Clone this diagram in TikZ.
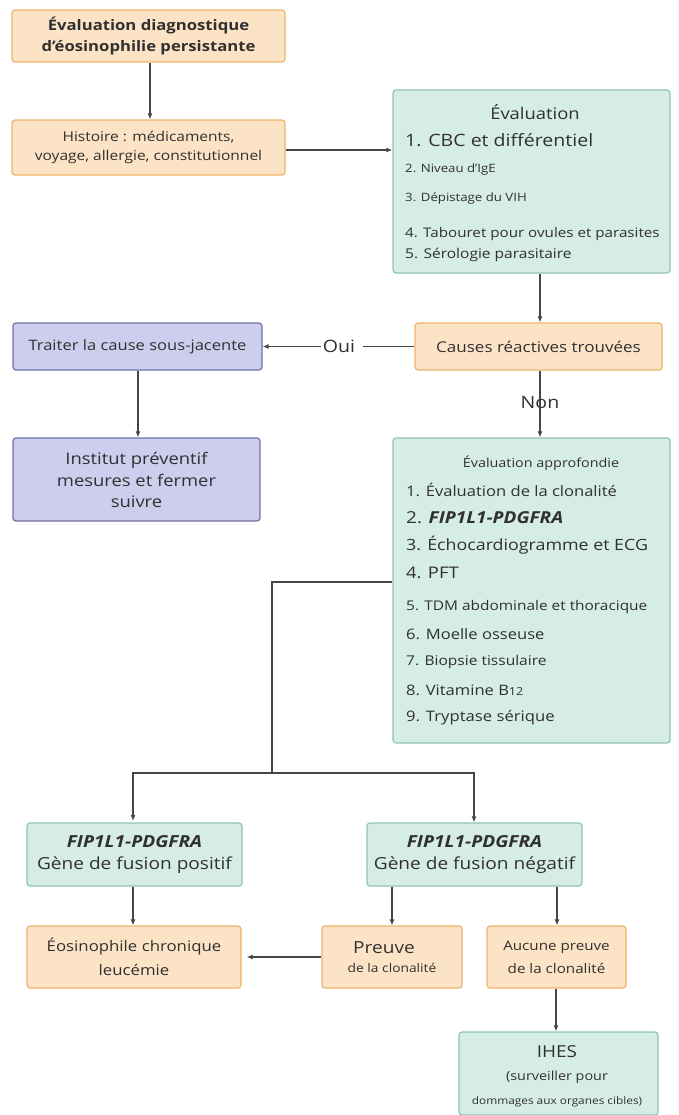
\documentclass[tikz,border=0pt]{standalone}
\usepackage{fontspec}
\setmainfont{Open Sans}[FakeStretch=1.15]
\usetikzlibrary{arrows.meta,calc}
\definecolor{orfill}{HTML}{FCE3C6}
\definecolor{ordraw}{HTML}{EDB46A}
\definecolor{grfill}{HTML}{D6EDE5}
\definecolor{grdraw}{HTML}{8EC5AE}
\definecolor{pufill}{HTML}{CDCEEE}
\definecolor{pudraw}{HTML}{6F71A6}
\definecolor{ink}{HTML}{303030}
\definecolor{wire}{HTML}{454545}
\newcommand{\fs}[1]{\fontsize{#1}{#1}\selectfont}
\tikzset{
  box/.style={rectangle, rounded corners=3pt, line width=1.2pt, inner sep=0pt, align=center, text=ink},
  obox/.style={box, fill=orfill, draw=ordraw},
  gbox/.style={box, fill=grfill, draw=grdraw},
  pbox/.style={box, fill=pufill, draw=pudraw},
  item/.style={anchor=west, inner sep=0pt, text=ink},
  wirestyle/.style={draw=wire, line width=1.3pt},
  arr/.style={wirestyle, -{Latex[length=6pt,width=5pt]}},
  lbl/.style={inner sep=0pt, text=ink}
}
\begin{document}
\begin{tikzpicture}[x=1pt,y=-1pt]
\useasboundingbox (0,0) rectangle (679,1115);

% first assessment steps
\node[obox, minimum width=273pt, minimum height=52pt, font=\fs{14.5}\bfseries]
  (top) at (148.5,36) {Évaluation diagnostique\\[5.5pt]d'éosinophilie persistante};
\node[obox, minimum width=273pt, minimum height=55pt, font=\fs{13.5}]
  (hist) at (148.5,147.5) {Histoire : médicaments,\\[6pt]voyage, allergie, constitutionnel};

% initial work-up
\node[gbox, minimum width=277pt, minimum height=183pt] (eval) at (531.5,181.5) {};
\node[lbl, font=\fs{16}] (evalt) at (535,112) {Évaluation};
\node[item, font=\fs{17}] (e1) at (405,140) {1. CBC et différentiel};
\node[item, font=\fs{11.5}] (e2) at (405,170) {2. Niveau d'IgE};
\node[item, font=\fs{11.5}] (e3) at (405,198) {3. Dépistage du VIH};
\node[item, font=\fs{13.2}] (e4) at (405,234) {4. Tabouret pour ovules et parasites};
\node[item, font=\fs{13.5}] (e5) at (405,255) {5. Sérologie parasitaire};

% reactive causes decision
\node[obox, minimum width=247pt, minimum height=47pt, font=\fs{14.8}]
  (causes) at (538.5,346.5) {Causes réactives trouvées};
\node[pbox, minimum width=249pt, minimum height=47pt, font=\fs{14.4}]
  (traiter) at (137.5,346.5) {Traiter la cause sous-jacente};
\node[pbox, minimum width=247pt, minimum height=83pt, font=\fs{16}]
  (inst) at (136.5,479.5) {Institut préventif\\[5pt]mesures et fermer\\[5pt]suivre};
\node[lbl, font=\fs{17}] (oui) at (339,346.5) {Oui};
\node[lbl, font=\fs{17}] (non) at (540,403) {Non};

% extended work-up
\node[gbox, minimum width=277pt, minimum height=305pt] (deep) at (531.5,590.5) {};
\node[lbl, font=\fs{12.5}] (deept) at (541,463) {Évaluation approfondie};
\node[item, font=\fs{14.4}] (d1) at (406,490) {1. Évaluation de la clonalité};
\node[item, font=\fs{16.5}] (d2) at (406,518) {2. \textbf{\textit{FIP1L1-PDGFRA}}};
\node[item, font=\fs{15.5}] (d3) at (406,545) {3. Échocardiogramme et ECG};
\node[item, font=\fs{16}] (d4) at (406,573) {4. PFT};
\node[item, font=\fs{13.4}] (d5) at (406,607) {5. TDM abdominale et thoracique};
\node[item, font=\fs{14.4}] (d6) at (406,634) {6. Moelle osseuse};
\node[item, font=\fs{13.5}] (d7) at (406,662) {7. Biopsie tissulaire};
\node[item, font=\fs{14.4}] (d8) at (406,690) {8. Vitamine B{\fs{11}12}};
\node[item, font=\fs{14.5}] (d9) at (406,718) {9. Tryptase sérique};

% fusion gene outcome
\node[gbox, minimum width=215pt, minimum height=63pt, font=\fs{16.6}]
  (fpos) at (134.5,854.5) {\textbf{\textit{FIP1L1-PDGFRA}}\\[5pt]Gène de fusion positif};
\node[gbox, minimum width=215pt, minimum height=63pt, font=\fs{16.6}]
  (fneg) at (474.5,854.5) {\textbf{\textit{FIP1L1-PDGFRA}}\\[5pt]Gène de fusion négatif};

% final diagnoses
\node[obox, minimum width=214pt, minimum height=62pt, font=\fs{14.6}]
  (cel) at (134,957) {Éosinophile chronique\\[8pt]leucémie};
\node[obox, minimum width=140pt, minimum height=62pt]
  (preuve) at (392,957) {\fs{16.6}\hspace*{-16pt}Preuve\\[7pt]\fs{12}de la clonalité};
\node[obox, minimum width=139pt, minimum height=62pt, font=\fs{13.2}]
  (aucune) at (556.5,957) {Aucune preuve\\[9pt]de la clonalité};
\node[gbox, minimum width=199pt, minimum height=83pt]
  (ihes) at (558.5,1073.5) {};
\node[lbl, font=\fs{16.5}] (ihes1) at (557,1052) {IHES};
\node[lbl, font=\fs{12.5}] (ihes2) at (557,1077) {(surveiller pour};
\node[lbl, font=\fs{10.3}] (ihes3) at (557,1102) {dommages aux organes cibles)};

% connectors
\coordinate (split) at (272,582);
\coordinate (fork) at (272,773);
\draw[arr] (top.south -| 150,0) -- (hist.north -| 150,0);
\draw[arr] (hist.east |- 0,150) -- (eval.west |- 0,150);
\draw[arr] (eval.south -| 540,0) -- (causes.north -| 540,0);
\draw[wirestyle] (causes.west) -- ([xshift=8pt]oui.east);
\draw[arr] ([xshift=-2pt]oui.west) -- (traiter.east |- oui.west);
\draw[arr] (traiter.south -| 138,0) -- (inst.north -| 138,0);
\draw[wirestyle] (causes.south -| non) -- ([yshift=-6pt]non.north);
\draw[arr] ([yshift=6pt]non.south) -- (deep.north -| non);
\draw[wirestyle] (deep.west |- split) -- (split) -- (fork);
\draw[arr] (fork) -| (133,821);
\draw[wirestyle] (fork) -| (474,790);
\draw[arr] (474,790) -- (fneg.north -| 474,0);
\draw[arr] (fpos.south -| 133,0) -- (cel.north -| 133,0);
\draw[arr] (fneg.south -| preuve) -- (preuve.north);
\draw[arr] (fneg.south -| 557,0) -- (aucune.north -| 557,0);
\draw[arr] (preuve.west) -- ([xshift=5pt]cel.east);
\draw[arr] (aucune.south -| 556,0) -- (ihes.north -| 556,0);
\end{tikzpicture}
\end{document}
